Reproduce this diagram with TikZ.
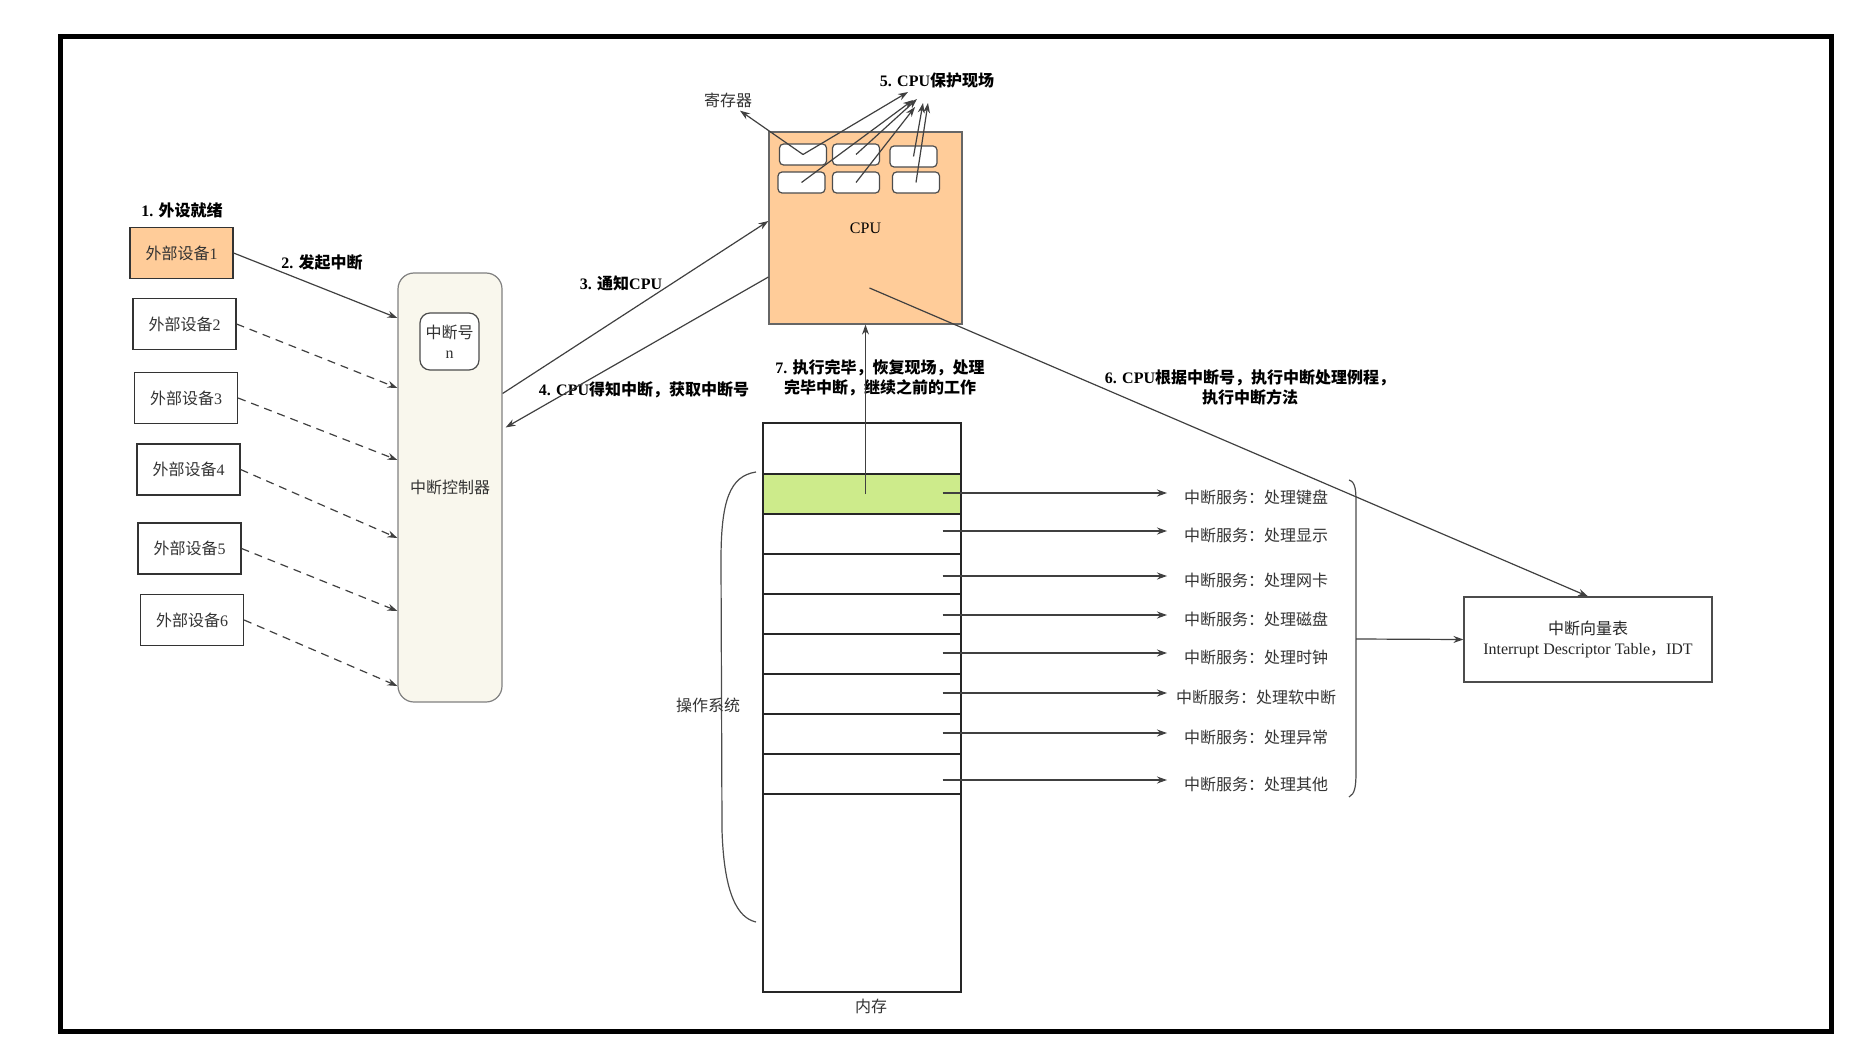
\documentclass[tikz,border=0pt]{standalone}
\usepackage{fontspec}
\setmainfont{Liberation Serif}
\newfontfamily\cjk{Noto Sans CJK SC}
\usetikzlibrary{arrows.meta}

\definecolor{peach}{HTML}{FFCC99}
\definecolor{ctrlfill}{HTML}{F9F7ED}
\definecolor{osgreen}{HTML}{CDEB8B}

\tikzset{
  devbox/.style={draw=black!80,minimum width=51.5pt,minimum height=25.5pt,inner sep=0pt,text=black!80},
  regbox/.style={draw=black!70,fill=white,rounded corners=2pt,minimum width=23.5pt,minimum height=10.5pt,inner sep=0pt},
  rowbox/.style={draw=black!85,minimum width=99pt,minimum height=20pt,inner sep=0pt},
  steplabel/.style={font=\fontsize{8}{10}\selectfont\bfseries,align=center,text=black},
  plain/.style={text=black!80},
}

\begin{document}
\begin{tikzpicture}[x=0.5pt,y=-0.5pt,line width=0.6pt,draw=black!75,>={Stealth[length=5pt,width=3.5pt]},font=\fontsize{8}{10}\selectfont]
\useasboundingbox (0,0) rectangle (1858,1054);
% outer frame
\draw[draw=black,line width=2.5pt] (60.5,36.5) rectangle (1831.5,1031.5);

% devices
\node[steplabel] (ready) at (182,210) {1. {\cjk 外设就绪}};
\node[devbox,fill=peach] (dev1) at (181.5,253) {{\cjk 外部设备}1};
\foreach \i/\x/\y in {2/184.5/324, 3/186/398, 4/188.5/469.5, 5/189.5/548.5, 6/192/620}
  \node[devbox] (dev\i) at (\x,\y) {{\cjk 外部设备}\i};
\node[steplabel] (raise) at (322,262) {2. {\cjk 发起中断}};

% interrupt controller
\node[draw=black!50,fill=ctrlfill,rounded corners=8pt,minimum width=52pt,minimum height=214.5pt,plain] (ctrl) at (450,487.5) {\cjk 中断控制器};
\node[draw=black!70,fill=white,rounded corners=5pt,minimum width=29.5pt,minimum height=28.5pt,inner sep=0pt,align=center,plain] (irq) at (449.5,341.5) {{\cjk 中断号}\\n};

% device -> controller
\draw[->] (dev1.east) -- (ctrl.west |- 0,318);
\foreach \i/\y in {2/388, 3/460, 4/538, 5/611, 6/686}
  \draw[dash pattern=on 4pt off 3pt,->] (dev\i.east) -- (ctrl.west |- 0,\y);

% CPU with registers
\node[draw=black!60,fill=peach,minimum width=96.5pt,minimum height=96pt,inner sep=0pt] (cpu) at (865.5,228) {CPU};
\foreach \r/\x/\y in {r1/803/154.5, r2/856/154.5, r3/913.5/156.5, r4/801.5/182.5, r5/856/182.5, r6/916/182.5}
  \node[regbox] (\r) at (\x,\y) {};
\node[plain] (reglbl) at (728,100) {\cjk 寄存器};
\node[steplabel] (protect) at (937,80) {5. CPU{\cjk 保护现场}};
\draw[->] (r1.center) -- ([xshift=6pt,yshift=2pt]reglbl.south);
\foreach \r/\x/\y in {r1/908/92, r4/913/100, r2/917/99, r5/915/107, r3/923/103, r6/928/103}{
  \coordinate (t\r) at (\x,\y);
  \draw[->] (\r.center) -- (t\r);
}

% controller <-> CPU
\node[steplabel] (notify) at (621,283) {3. {\cjk 通知}CPU};
\node[steplabel] (fetch) at (644,390) {4. CPU{\cjk 得知中断，获取中断号}};
\draw[->] ([yshift=47pt]ctrl.east) -- ([yshift=3.5pt]cpu.west);
\draw[->] ([yshift=-24.5pt]cpu.west) -- ([xshift=1.5pt,yshift=30pt]ctrl.east);

% memory
\node[draw=black!85,minimum width=99pt,minimum height=284.5pt,inner sep=0pt] (mem) at (862,707.5) {};
\node[plain] (memlbl) at (871,1006) {\cjk 内存};
\coordinate (svcend) at (1167,0);
\foreach \i/\svc/\bg/\ya in {1/键盘/osgreen/493, 2/显示/white/531, 3/网卡/white/576, 4/磁盘/white/615, 5/时钟/white/653, 6/软中断/white/693, 7/异常/white/733, 8/其他/white/780}{
  \node[rowbox,fill=\bg] (row\i) at (862,454+40*\i) {};
  \node[plain] (svc\i) at (1256,\ya+4) {\cjk 中断服务：处理\svc};
  \draw[->] ([xshift=-9.5pt]row\i.east |- 0,\ya) -- (svcend |- 0,\ya);
}
% operating system brace
\draw[black!70] (756,472) .. controls (730,476) and (721,500) .. (721,560) -- (722,830) .. controls (724,895) and (738,918) .. (756,922);
\node[plain] (oslbl) at (708,705) {\cjk 操作系统};

% resume
\node[steplabel] (resume) at (880,378) {7. {\cjk 执行完毕，恢复现场，处理}\\{\cjk 完毕中断，继续之前的工作}};
\draw[->] (row1.center -| cpu.south) -- (cpu.south);

% vector table
\draw[black!70] (1349,480) .. controls (1356,482) and (1356,492) .. (1356,505) -- (1356,772) .. controls (1356,786) and (1355,794) .. (1349,797);
\coordinate (brmid) at (1356,639);
\node[draw=black!70,minimum width=124pt,minimum height=42.5pt,align=center,text=black!85] (idt) at (1588,639.5) {{\cjk 中断向量表}\\Interrupt Descriptor Table{\cjk ，}IDT};
\draw[->] (brmid) -- (idt.west);
\node[steplabel] (dispatch) at (1250,387) {6. CPU{\cjk 根据中断号，执行中断处理例程，}\\{\cjk 执行中断方法}};
\draw[->] ([xshift=2pt,yshift=-30pt]cpu.center) -- (idt.north);
\end{tikzpicture}
\end{document}
